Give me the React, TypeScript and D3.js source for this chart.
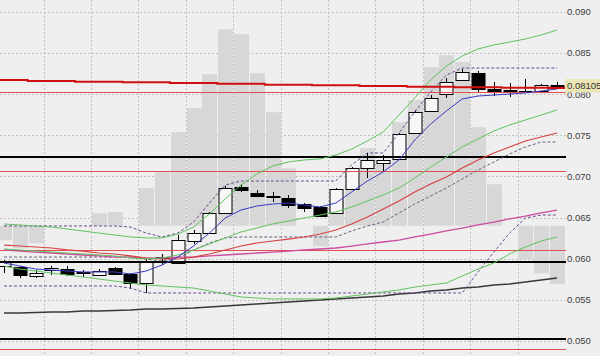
import React from 'react';
import * as d3 from 'd3';

const W = 600;
const H = 356;
const PLOT_RIGHT = 566;

// Candles (OHLC)
const openP = [0.05910, 0.05898, 0.05788, 0.05861, 0.05874, 0.05837, 0.05800, 0.05886, 0.05813, 0.05703, 0.06007, 0.05946, 0.06214, 0.06311, 0.06555, 0.06871, 0.06798, 0.06762, 0.06737, 0.06664, 0.06628, 0.06555, 0.06847, 0.07102, 0.07163, 0.07212, 0.07528, 0.07796, 0.08002, 0.08173, 0.08258, 0.08063, 0.08051, 0.08039, 0.08039, 0.08112];
const highP = [0.05983, 0.05910, 0.05861, 0.05910, 0.05910, 0.05861, 0.05873, 0.05898, 0.05825, 0.05995, 0.06056, 0.06287, 0.06348, 0.06567, 0.06883, 0.06908, 0.06835, 0.06810, 0.06774, 0.06676, 0.06640, 0.06859, 0.07114, 0.07285, 0.07260, 0.07528, 0.07808, 0.07990, 0.08197, 0.08307, 0.08282, 0.08148, 0.08136, 0.08185, 0.08124, 0.08148];
const lowP = [0.05825, 0.05764, 0.05764, 0.05800, 0.05788, 0.05776, 0.05788, 0.05800, 0.05630, 0.05582, 0.05922, 0.05946, 0.06178, 0.06299, 0.06543, 0.06810, 0.06749, 0.06689, 0.06616, 0.06567, 0.06506, 0.06543, 0.06835, 0.06981, 0.07054, 0.07200, 0.07516, 0.07796, 0.07954, 0.08173, 0.08027, 0.07978, 0.07966, 0.08015, 0.08027, 0.08100];
const closeP = [0.05959, 0.05800, 0.05825, 0.05886, 0.05813, 0.05825, 0.05849, 0.05813, 0.05703, 0.05971, 0.06019, 0.06226, 0.06312, 0.06555, 0.06859, 0.06835, 0.06762, 0.06749, 0.06652, 0.06616, 0.06518, 0.06847, 0.07102, 0.07200, 0.07200, 0.07516, 0.07784, 0.07954, 0.08148, 0.08270, 0.08063, 0.08039, 0.08045, 0.08039, 0.08112, 0.08105];

// Indicator lines
const greenUpper = [0.06421, 0.06409, 0.06397, 0.06384, 0.06360, 0.06336, 0.06311, 0.06287, 0.06263, 0.06251, 0.06251, 0.06299, 0.06384, 0.06543, 0.06725, 0.06895, 0.07029, 0.07127, 0.07175, 0.07200, 0.07212, 0.07260, 0.07333, 0.07431, 0.07540, 0.07747, 0.07954, 0.08173, 0.08343, 0.08465, 0.08550, 0.08599, 0.08635, 0.08672, 0.08720, 0.08781];
const greenMiddle = [0.06117, 0.06105, 0.06092, 0.06080, 0.06068, 0.06056, 0.06044, 0.06032, 0.06007, 0.05995, 0.06007, 0.06044, 0.06105, 0.06178, 0.06251, 0.06324, 0.06372, 0.06421, 0.06457, 0.06494, 0.06530, 0.06567, 0.06628, 0.06701, 0.06774, 0.06859, 0.06981, 0.07114, 0.07236, 0.07358, 0.07455, 0.07552, 0.07625, 0.07686, 0.07747, 0.07808];
const greenLower = [0.05910, 0.05873, 0.05849, 0.05825, 0.05800, 0.05776, 0.05752, 0.05727, 0.05703, 0.05679, 0.05667, 0.05654, 0.05642, 0.05606, 0.05569, 0.05533, 0.05521, 0.05509, 0.05509, 0.05509, 0.05509, 0.05521, 0.05545, 0.05569, 0.05594, 0.05618, 0.05654, 0.05679, 0.05703, 0.05788, 0.05873, 0.05946, 0.06056, 0.06141, 0.06214, 0.06263];
const blueMA = [0.05946, 0.05910, 0.05873, 0.05861, 0.05849, 0.05837, 0.05837, 0.05837, 0.05813, 0.05849, 0.05922, 0.06019, 0.06153, 0.06311, 0.06494, 0.06591, 0.06640, 0.06664, 0.06676, 0.06652, 0.06628, 0.06676, 0.06810, 0.06944, 0.07054, 0.07200, 0.07443, 0.07637, 0.07796, 0.07942, 0.07978, 0.07990, 0.08002, 0.08015, 0.08039, 0.08063];
const redMA = [0.06165, 0.06153, 0.06141, 0.06129, 0.06105, 0.06092, 0.06068, 0.06056, 0.06032, 0.06007, 0.05995, 0.05995, 0.06019, 0.06056, 0.06105, 0.06153, 0.06190, 0.06214, 0.06238, 0.06263, 0.06299, 0.06348, 0.06421, 0.06506, 0.06603, 0.06701, 0.06810, 0.06908, 0.06993, 0.07102, 0.07200, 0.07285, 0.07358, 0.07431, 0.07479, 0.07528];
const pinkMA = [0.06105, 0.06092, 0.06080, 0.06068, 0.06056, 0.06044, 0.06032, 0.06019, 0.06019, 0.06007, 0.06007, 0.06019, 0.06019, 0.06032, 0.06044, 0.06056, 0.06068, 0.06080, 0.06092, 0.06105, 0.06117, 0.06129, 0.06153, 0.06178, 0.06202, 0.06226, 0.06263, 0.06299, 0.06336, 0.06372, 0.06409, 0.06445, 0.06482, 0.06518, 0.06555, 0.06591];
const darkMA = [0.05338, 0.05338, 0.05344, 0.05350, 0.05350, 0.05363, 0.05363, 0.05369, 0.05375, 0.05387, 0.05387, 0.05393, 0.05399, 0.05411, 0.05423, 0.05436, 0.05448, 0.05460, 0.05472, 0.05484, 0.05496, 0.05509, 0.05521, 0.05533, 0.05545, 0.05569, 0.05582, 0.05606, 0.05618, 0.05642, 0.05654, 0.05679, 0.05691, 0.05715, 0.05740, 0.05764];
const stepMA = [0.08173, 0.08173, 0.08161, 0.08161, 0.08161, 0.08152, 0.08152, 0.08152, 0.08145, 0.08145, 0.08145, 0.08136, 0.08136, 0.08136, 0.08127, 0.08127, 0.08127, 0.08116, 0.08116, 0.08116, 0.08108, 0.08108, 0.08108, 0.08100, 0.08100, 0.08100, 0.08091, 0.08091, 0.08091, 0.08084, 0.08084, 0.08084, 0.08079, 0.08079, 0.08079, 0.08075];
const dashUpper = [0.06397, 0.06397, 0.06397, 0.06397, 0.06397, 0.06397, 0.06397, 0.06397, 0.06384, 0.06311, 0.06263, 0.06311, 0.06445, 0.06676, 0.06895, 0.06944, 0.06944, 0.06944, 0.06944, 0.06944, 0.06944, 0.06944, 0.07139, 0.07285, 0.07285, 0.07528, 0.07784, 0.08027, 0.08234, 0.08319, 0.08319, 0.08319, 0.08319, 0.08319, 0.08319, 0.08319];
const dashMiddle = [0.06019, 0.06019, 0.06019, 0.06019, 0.06019, 0.06019, 0.06019, 0.06019, 0.06019, 0.05995, 0.05971, 0.06007, 0.06105, 0.06190, 0.06251, 0.06263, 0.06263, 0.06263, 0.06263, 0.06263, 0.06263, 0.06263, 0.06336, 0.06397, 0.06445, 0.06555, 0.06664, 0.06762, 0.06859, 0.06968, 0.07078, 0.07175, 0.07273, 0.07358, 0.07418, 0.07418];
const dashLower = [0.05667, 0.05667, 0.05667, 0.05667, 0.05667, 0.05667, 0.05667, 0.05667, 0.05642, 0.05582, 0.05582, 0.05582, 0.05582, 0.05582, 0.05582, 0.05582, 0.05582, 0.05582, 0.05582, 0.05582, 0.05582, 0.05582, 0.05582, 0.05582, 0.05582, 0.05582, 0.05582, 0.05582, 0.05582, 0.05582, 0.05837, 0.06080, 0.06311, 0.06494, 0.06530, 0.06530];

// Histogram (oscillator drawn in the main window)
const histValues = [-1.45, -2.25, -1.75, 0, 0, 0, 1.25, 1.35, 0, 3.75, 5.35, 9.35, 11.75, 15.15, 19.65, 19.15, 15.25, 11.35, 5.75, 0, -2.05, 2.55, 4.05, 7.75, 6.55, 10.35, 12.55, 15.85, 17.05, 16.35, 9.85, 4.15, 0, -3.35, -4.75, -5.85];
const histBase = 0.064;

// Horizontal levels
const redLevels = [0.0803, 0.0706, 0.0610, 0.0490];
const blackLevels = [0.0724, 0.0596, 0.0502];

const yTicks = [0.050, 0.055, 0.060, 0.065, 0.070, 0.075, 0.080, 0.085, 0.090];
const lastPrice = 0.08105;

export default function App() {
  const n = openP.length;
  const x = d3.scaleLinear().domain([0, n - 1]).range([4, 557]);
  const y = d3.scaleLinear().domain([0.05, 0.09]).range([340.8, 12]);
  const baseY = y(histBase);
  const hs = d3.scaleLinear().domain([0, 20]).range([baseY, baseY - 200]);
  const step = x(1) - x(0);

  const line = d3.line<number>().x((_, i) => x(i)).y((d) => y(d));
  const stepPts: [number, number][] = stepMA.map((v, i) => [x(i) - step / 2, y(v)]);
  stepPts.push([PLOT_RIGHT, y(stepMA[n - 1])]);
  const stepLine = d3.line<[number, number]>().x((d) => d[0]).y((d) => d[1]).curve(d3.curveStepAfter);

  const gridX: number[] = [];
  for (let i = 2; i < n - 1; i += 3) gridX.push(x(i + 0.5));

  const cr = (v: number) => Math.round(v) + 0.5;

  return (
    <svg width={W} height={H} style={{ position: 'absolute', left: 0, top: 0 }} xmlns="http://www.w3.org/2000/svg">
      <defs>
        <clipPath id="plot"><rect x={0} y={0} width={PLOT_RIGHT} height={H} /></clipPath>
      </defs>
      <rect x={0} y={0} width={W} height={H} fill="#efefef" />
      <g clipPath="url(#plot)">
        {yTicks.map((t) => (
          <line key={'gy' + t} x1={0} x2={PLOT_RIGHT} y1={cr(y(t))} y2={cr(y(t))} stroke="#c2c2c2" strokeDasharray="2,2" />
        ))}
        {gridX.map((gx) => (
          <line key={'gx' + gx} x1={cr(gx)} x2={cr(gx)} y1={0} y2={H} stroke="#c2c2c2" strokeDasharray="2,2" />
        ))}
        {histValues.map((v, i) => {
          if (v === 0) return null;
          const y0 = hs(0), y1 = hs(v);
          return <rect key={'h' + i} x={Math.round(x(i)) - 7} y={Math.min(y0, y1)} width={15} height={Math.abs(y1 - y0)} fill="#d7d7d7" />;
        })}
        {openP.map((o, i) => {
          const c = closeP[i];
          const cx = cr(x(i));
          const top = Math.round(y(Math.max(o, c)));
          const bot = Math.round(y(Math.min(o, c)));
          const bull = c >= o;
          return (
            <g key={'c' + i}>
              <line x1={cx} x2={cx} y1={Math.round(y(highP[i]))} y2={Math.round(y(lowP[i]))} stroke="#000" />
              {bot - top < 1 ? (
                <line x1={cx - 6.5} x2={cx + 6.5} y1={top + 0.5} y2={top + 0.5} stroke="#000" />
              ) : (
                <rect x={cx - 6.5} y={top + 0.5} width={13} height={bot - top} fill={bull ? '#f7f7f7' : '#000'} stroke="#000" />
              )}
            </g>
          );
        })}
        {redLevels.map((v) => (
          <line key={'rl' + v} x1={0} x2={PLOT_RIGHT} y1={cr(y(v))} y2={cr(y(v))} stroke="#e05050" />
        ))}
        {blackLevels.map((v) => (
          <line key={'bl' + v} x1={0} x2={PLOT_RIGHT} y1={Math.round(y(v))} y2={Math.round(y(v))} stroke="#000" strokeWidth={2} />
        ))}
        <path d={line(darkMA) || ''} fill="none" stroke="#383838" strokeWidth={1.4} />
        <path d={line(dashLower) || ''} fill="none" stroke="#6b4a92" strokeDasharray="3,2" />
        <path d={line(dashMiddle) || ''} fill="none" stroke="#6a6080" strokeDasharray="3,2" />
        <path d={line(dashUpper) || ''} fill="none" stroke="#6b4a92" strokeDasharray="3,2" />
        <path d={line(pinkMA) || ''} fill="none" stroke="#cc4aa0" strokeWidth={1.3} />
        <path d={line(redMA) || ''} fill="none" stroke="#d84040" strokeWidth={1.2} />
        <path d={line(greenLower) || ''} fill="none" stroke="#5fc35f" />
        <path d={line(greenMiddle) || ''} fill="none" stroke="#5fc35f" />
        <path d={line(greenUpper) || ''} fill="none" stroke="#5fc35f" />
        <path d={line(blueMA) || ''} fill="none" stroke="#3a3ac4" />
        <path d={stepLine(stepPts) || ''} fill="none" stroke="#d01010" strokeWidth={2} />
      </g>
      {yTicks.map((t) => (
        <text key={'t' + t} x={567} y={y(t) + 3.3} fontSize={9.5} fontFamily="Liberation Sans, Arial, sans-serif" fill="#3c3c3c">
          {t.toFixed(3)}
        </text>
      ))}
      <rect x={565} y={y(lastPrice) - 6.5} width={35} height={13.5} fill="#ece6b6" />
      <text x={567} y={y(lastPrice) + 3.5} fontSize={9.5} fontFamily="Liberation Sans, Arial, sans-serif" fill="#333">
        {lastPrice.toFixed(5)}
      </text>
    </svg>
  );
}
